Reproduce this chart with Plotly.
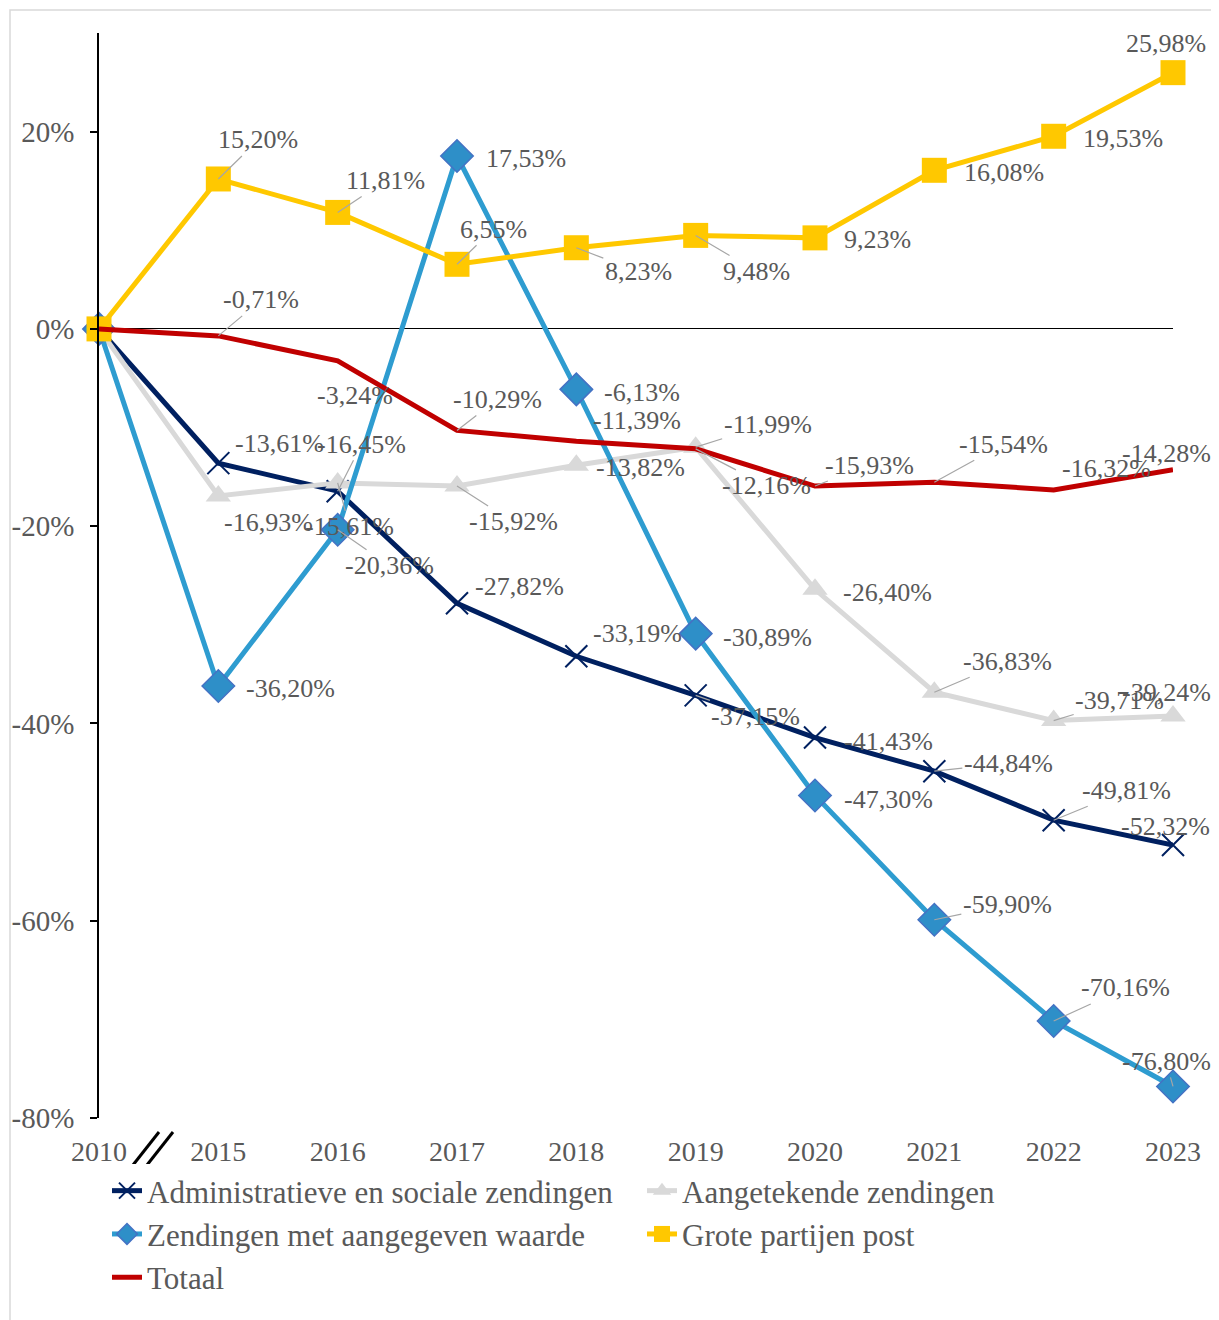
import plotly.graph_objects as go

years = ["2010", "2015", "2016", "2017", "2018", "2019", "2020", "2021", "2022", "2023"]

admin_sociaal = [0, -13.61, -16.45, -27.82, -33.19, -37.15, -41.43, -44.84, -49.81, -52.32]
aangetekend = [0, -16.93, -15.61, -15.92, -13.82, -11.99, -26.40, -36.83, -39.71, -39.24]
aangegeven_waarde = [0, -36.20, -20.36, 17.53, -6.13, -30.89, -47.30, -59.90, -70.16, -76.80]
grote_partijen = [0, 15.20, 11.81, 6.55, 8.23, 9.48, 9.23, 16.08, 19.53, 25.98]
totaal = [0, -0.71, -3.24, -10.29, -11.39, -12.16, -15.93, -15.54, -16.32, -14.28]

y_ticks = [-80, -60, -40, -20, 0, 20]
y_ticktext = ["-80%", "-60%", "-40%", "-20%", "0%", "20%"]

FONT = "Liberation Serif"
LABEL_COLOR = "#595959"
LEADER = "#A6A6A6"

# label offsets (dx, dy in px, leader line?) for 2015..2023
label_pos = {
    "admin": [(61, -20, 0), (24, -47, 1), (62, -17, 0), (61, -23, 0), (60, 21, 1),
              (73, 4, 0), (74, -8, 1), (73, -30, 1), (-8, -18, 0)],
    "aang": [(50, 27, 0), (12, 44, 1), (56, 36, 1), (64, 2, 0), (72, -23, 1),
             (72, 3, 0), (73, -31, 1), (66, -20, 1), (-7, -23, 0)],
    "waarde": [(72, 3, 0), (52, 36, 1), (69, 2, 0), (66, 3, 0), (72, 4, 0),
               (73, 4, 0), (73, -15, 1), (72, -33, 1), (-7, -25, 1)],
    "grote": [(40, -39, 1), (48, -32, 1), (36, -35, 1), (62, 24, 1), (61, 36, 1),
              (62, 2, 0), (70, 2, 0), (69, 2, 0), (-7, -29, 0)],
    "totaal": [(43, -36, 1), (17, 35, 0), (40, -31, 1), (61, -21, 0), (71, 37, 1),
               (54, -21, 1), (69, -38, 1), (53, -21, 0), (-7, -16, 0)],
}

series = [
    ("admin", "Administratieve en sociale zendingen", admin_sociaal, "#002060",
     dict(symbol="x-thin", size=22, line=dict(color="#002060", width=2))),
    ("aang", "Aangetekende zendingen", aangetekend, "#D9D9D9",
     dict(symbol="triangle-up", size=22, color="#D9D9D9")),
    ("waarde", "Zendingen met aangegeven waarde", aangegeven_waarde, "#2E9CD0",
     dict(symbol="diamond", size=25, color="#2E8FC8", line=dict(color="#4472C4", width=1.5))),
    ("grote", "Grote partijen post", grote_partijen, "#FFC800",
     dict(symbol="square", size=25, color="#FFC800")),
    ("totaal", "Totaal", totaal, "#C00000", None),
]

fig = go.Figure()
annotations = []
for key, name, vals, color, marker in series:
    fig.add_trace(go.Scatter(
        x=years, y=vals, name=name,
        mode="lines+markers" if marker else "lines",
        line=dict(color=color, width=5),
        marker=marker, cliponaxis=False,
    ))
    for i, (dx, dy, lead) in enumerate(label_pos[key], start=1):
        txt = f"{vals[i]:.2f}".replace(".", ",") + "%"
        a = dict(x=i, y=vals[i], xref="x", yref="y", text=txt,
                 font=dict(family=FONT, size=26, color=LABEL_COLOR))
        if lead:
            a.update(showarrow=True, ax=dx, ay=dy, arrowhead=0, arrowwidth=1.2,
                     arrowcolor=LEADER, standoff=0)
        else:
            a.update(showarrow=False, xshift=dx, yshift=-dy)
        annotations.append(a)

# page has an 8px body margin around the figure
OFF = 8
W, H = 1219, 1320
L, R, T, B = 91, 54, 25, 210
pw, ph = W - L - R, H - T - B


def px(x):
    return (x - OFF - L) / pw


def py(y):
    return (OFF + H - B - y) / ph


shapes = [
    # axis break marks
    dict(type="line", xref="paper", yref="paper", x0=px(133), y0=py(1165), x1=px(159), y1=py(1132),
         line=dict(color="black", width=3)),
    dict(type="line", xref="paper", yref="paper", x0=px(147), y0=py(1165), x1=px(173), y1=py(1132),
         line=dict(color="black", width=3)),
    # outer frame
    dict(type="rect", xref="paper", yref="paper", x0=px(10), y0=py(1340), x1=px(1217), y1=py(10),
         line=dict(color="#D9D9D9", width=1.5), layer="below"),
]

fig.update_layout(
    width=W, height=H,
    margin=dict(l=L, r=R, t=T, b=B, autoexpand=False),
    paper_bgcolor="white", plot_bgcolor="white",
    font=dict(family=FONT, color=LABEL_COLOR),
    xaxis=dict(type="category", range=[0, 9], showgrid=False, showline=False, zeroline=False,
               automargin=False, ticks="", tickfont=dict(size=28, color=LABEL_COLOR),
               ticklabelstandoff=14),
    yaxis=dict(range=[-80, 30], tickvals=y_ticks, ticktext=y_ticktext, automargin=False,
               showgrid=False, showline=True, linecolor="black", linewidth=1.5,
               ticks="outside", ticklen=7, tickcolor="black", tickwidth=1.5,
               zeroline=True, zerolinecolor="black", zerolinewidth=1.2,
               tickfont=dict(size=29, color=LABEL_COLOR), ticklabelstandoff=10),
    legend=dict(orientation="h", x=px(107), y=py(1164), xanchor="left", yanchor="top",
                entrywidth=490, entrywidthmode="pixels", traceorder="normal",
                font=dict(family=FONT, size=31, color=LABEL_COLOR)),
    annotations=annotations,
    shapes=shapes,
)

fig.write_html("out.html")
